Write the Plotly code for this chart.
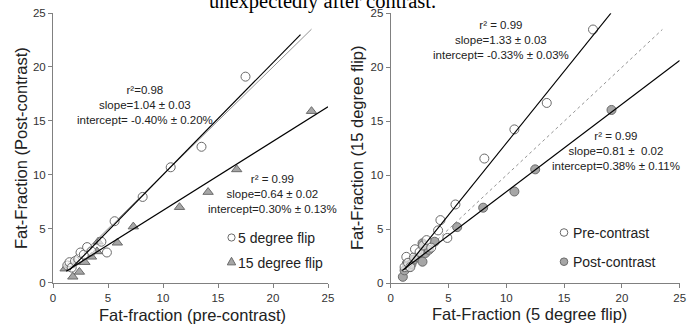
import plotly.graph_objects as go

# ---------------- data ----------------
# Left panel: x = pre-contrast fat fraction, y = post-contrast fat fraction
left_5deg_pre = [1.3, 1.5, 1.7, 2.0, 2.3, 2.5, 2.8, 3.1, 3.5, 4.4, 4.9, 5.6, 8.15, 10.7, 13.5, 17.5]
left_5deg_post = [1.6, 1.9, 1.4, 2.0, 2.2, 2.8, 2.6, 3.3, 2.9, 3.8, 2.8, 5.7, 7.95, 10.7, 12.6, 19.1]
left_15deg_pre = [1.1, 1.5, 1.8, 2.0, 2.4, 2.9, 3.5, 4.0, 4.1, 5.85, 7.3, 11.5, 14.1, 16.7, 23.5]
left_15deg_post = [1.3, 1.6, 0.55, 1.9, 1.0, 1.9, 2.4, 2.9, 3.8, 3.7, 5.2, 7.0, 8.4, 10.5, 15.9]

# Right panel: x = 5 degree flip, y = 15 degree flip
right_pre_5 = [1.2, 1.35, 1.5, 1.7, 2.0, 2.1, 2.5, 2.8, 3.1, 3.5, 4.1, 4.3, 4.9, 5.6, 8.1, 10.7, 13.5, 17.5]
right_pre_15 = [1.5, 2.45, 1.9, 1.5, 2.4, 3.15, 2.9, 3.5, 4.0, 3.3, 4.9, 5.85, 4.2, 7.3, 11.55, 14.25, 16.7, 23.5]
right_post_5 = [1.05, 1.2, 1.4, 1.6, 1.8, 2.0, 2.4, 2.75, 2.75, 3.0, 3.3, 3.8, 5.75, 8.0, 10.7, 12.5, 19.1]
right_post_15 = [0.6, 1.2, 1.85, 1.5, 1.8, 2.2, 2.4, 2.0, 3.7, 2.8, 3.1, 3.85, 5.2, 7.0, 8.5, 10.55, 16.05]

# regression results (slope, intercept) and line extents
fit_left_5 = (1.04, -0.40, [1.5, 22.5])
fit_left_15 = (0.64, 0.30, [1.2, 25.0])
identity_left = [1.5, 23.5]
fit_right_pre = (1.33, -0.33, [1.2, 19.05])
fit_right_post = (0.81, 0.38, [1.0, 25.0])
identity_right = [1.0, 23.5]

ticks = [0, 5, 10, 15, 20, 25]
tick_labels = ["0", "5", "10", "15", "20", "25"]

# ---------------- figure ----------------
W, H = 699, 331
def px(x):
    return x / W
def py(y):
    return 1 - y / H

fig = go.Figure()

GRAY_EDGE = "#6a6a6a"
GRAY_FILL = "#a6a6a6"

def line_trace(fit, xa, ya):
    s, b, xs = fit
    return go.Scatter(x=xs, y=[s * v + b for v in xs], mode="lines",
                      line=dict(color="black", width=1.2), xaxis=xa, yaxis=ya,
                      showlegend=False, hoverinfo="skip")

# Left panel
fig.add_trace(go.Scatter(x=identity_left, y=identity_left, mode="lines",
                         line=dict(color="#777777", width=0.8), xaxis="x", yaxis="y",
                         showlegend=False))
fig.add_trace(go.Scatter(x=left_15deg_pre, y=left_15deg_post, mode="markers",
                         marker=dict(symbol="triangle-up", size=9, color=GRAY_FILL,
                                     line=dict(color=GRAY_EDGE, width=1)),
                         xaxis="x", yaxis="y", showlegend=False, name="15 degree flip"))
fig.add_trace(go.Scatter(x=left_5deg_pre, y=left_5deg_post, mode="markers",
                         marker=dict(symbol="circle", size=9, color="rgba(255,255,255,0.6)",
                                     line=dict(color=GRAY_EDGE, width=1)),
                         xaxis="x", yaxis="y", showlegend=False, name="5 degree flip"))
fig.add_trace(line_trace(fit_left_5, "x", "y"))
fig.add_trace(line_trace(fit_left_15, "x", "y"))

# Right panel
fig.add_trace(go.Scatter(x=identity_right, y=identity_right, mode="lines",
                         line=dict(color="#777777", width=0.8, dash="dot"), xaxis="x2", yaxis="y2",
                         showlegend=False))
fig.add_trace(go.Scatter(x=right_post_5, y=right_post_15, mode="markers",
                         marker=dict(symbol="circle", size=9, color=GRAY_FILL,
                                     line=dict(color=GRAY_EDGE, width=1)),
                         xaxis="x2", yaxis="y2", showlegend=False, name="Post-contrast"))
fig.add_trace(go.Scatter(x=right_pre_5, y=right_pre_15, mode="markers",
                         marker=dict(symbol="circle", size=9, color="rgba(255,255,255,0.6)",
                                     line=dict(color=GRAY_EDGE, width=1)),
                         xaxis="x2", yaxis="y2", showlegend=False, name="Pre-contrast"))
fig.add_trace(line_trace(fit_right_pre, "x2", "y2"))
fig.add_trace(line_trace(fit_right_post, "x2", "y2"))

axis_common = dict(range=[0, 25], tickvals=ticks, ticktext=tick_labels, showgrid=False,
                   zeroline=False, showline=True, linecolor="#808080", linewidth=1,
                   ticks="outside", ticklen=4, tickcolor="#808080", automargin=False,
                   tickfont=dict(family="Liberation Sans, Arial", size=11.5, color="#333333"))

fig.update_layout(
    width=W, height=H, margin=dict(l=0, r=0, t=0, b=0, autoexpand=False),
    paper_bgcolor="white", plot_bgcolor="white",
    xaxis=dict(domain=[px(53), px(328)], anchor="y", **axis_common),
    yaxis=dict(domain=[py(282.7), py(13)], anchor="x", **axis_common),
    xaxis2=dict(domain=[px(390.7), px(679.7)], anchor="y2", **axis_common),
    yaxis2=dict(domain=[py(283.3), py(13.3)], anchor="x2", **axis_common),
    showlegend=False,
)

ann = []
SANS = "Liberation Sans, Arial"

def text(x, y, t, size, **kw):
    d = dict(x=px(x), y=py(y), xref="paper", yref="paper", text=t, showarrow=False,
             xanchor="center", yanchor="middle",
             font=dict(family=SANS, size=size, color="#222222"))
    d.update(kw)
    ann.append(d)

# clipped caption text at the very top
text(322.5, 15, "unexpectedly after contrast.", 20.5, yanchor="bottom",
     font=dict(family="Liberation Serif, Times New Roman", size=20.5, color="black"))

# regression annotations
text(145, 105.5, "r²=0.98<br>slope=1.04 ± 0.03<br>intercept= -0.40% ± 0.20%", 11.5)
text(272, 194, "r² = 0.99<br>slope=0.64 ± 0.02<br>intercept=0.30% ± 0.13%", 11.5)
text(500.7, 40, "r² = 0.99<br>slope=1.33 ± 0.03<br>intercept= -0.33% ± 0.03%", 11.5)
text(615.7, 150.5, "r² = 0.99<br>slope=0.81 ±  0.02<br>intercept=0.38% ± 0.11%", 11.5)

# legends (text)
text(236, 237.7, "5 degree flip", 14, xanchor="left")
text(236, 262.7, "15 degree flip", 14, xanchor="left")
text(571, 232.7, "Pre-contrast", 14, xanchor="left")
text(571, 262.2, "Post-contrast", 14, xanchor="left")

# axis titles
text(192.5, 315, "Fat-fraction (pre-contrast)", 16.5)
text(529.5, 314, "Fat-Fraction (5 degree flip)", 16.5)
text(21, 148, "Fat-Fraction (Post-contrast)", 16.5, textangle=-90)
text(357, 148, "Fat-Fraction (15 degree flip)", 16.5, textangle=-90)

fig.update_layout(annotations=ann)

# legend symbols as shapes
shapes = []
def circle(cx, cy, r, fill):
    shapes.append(dict(type="circle", xref="paper", yref="paper",
                       x0=px(cx - r), x1=px(cx + r), y0=py(cy + r), y1=py(cy - r),
                       line=dict(color=GRAY_EDGE, width=1), fillcolor=fill))
circle(231.5, 237.5, 3.6, "white")
circle(564, 232.5, 3.8, "white")
circle(564, 261.7, 3.8, GRAY_FILL)
cx, cy, s = 231.5, 261.5, 4.2
shapes.append(dict(type="path", xref="paper", yref="paper",
                   path=f"M {px(cx - s)} {py(cy + s*0.8)} L {px(cx + s)} {py(cy + s*0.8)} L {px(cx)} {py(cy - s)} Z",
                   line=dict(color=GRAY_EDGE, width=1), fillcolor=GRAY_FILL))
fig.update_layout(shapes=shapes)

fig.write_html("out.html", config={"displayModeBar": False},
               post_script="document.body.style.margin='0';document.body.style.overflow='hidden';")
